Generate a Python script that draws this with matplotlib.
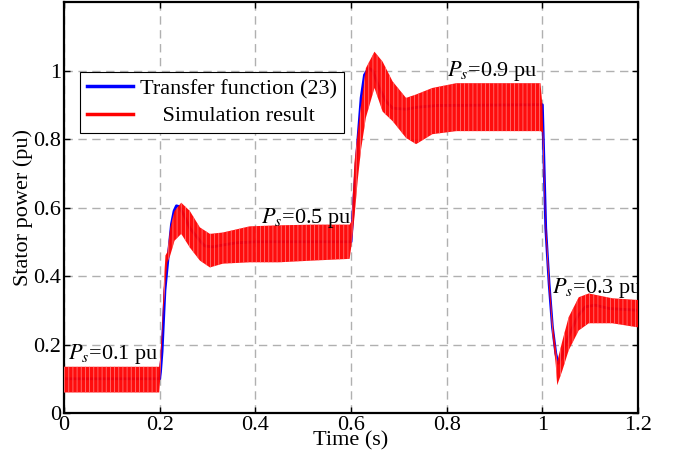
import matplotlib
matplotlib.use("Agg")
import matplotlib.pyplot as plt
from matplotlib.lines import Line2D

# transfer function response
blue_t = [0.0, 0.2, 0.2017, 0.205, 0.208, 0.211, 0.2176, 0.2246, 0.230, 0.235, 0.240,
          0.250, 0.263, 0.284, 0.294, 0.31, 0.33, 0.36, 0.40, 0.60, 0.601, 0.607, 0.614,
          0.621, 0.628, 0.637, 0.645, 0.659, 0.673, 0.687, 0.715, 0.74, 0.78, 1.0, 1.003,
          1.007, 1.014, 1.021, 1.028, 1.033, 1.040, 1.049, 1.06, 1.075, 1.09, 1.11, 1.14, 1.2]
blue_y = [0.1, 0.1, 0.12, 0.18, 0.27, 0.358, 0.454, 0.552, 0.59, 0.605, 0.603,
          0.58, 0.54, 0.503, 0.488, 0.485, 0.49, 0.497, 0.5, 0.5, 0.52, 0.648, 0.794,
          0.92, 0.987, 1.007, 1.0, 0.949, 0.91, 0.89, 0.887, 0.893, 0.898, 0.9, 0.75,
          0.54, 0.378, 0.251, 0.174, 0.145, 0.16, 0.203, 0.24, 0.285, 0.31, 0.315, 0.305, 0.3]

# simulation result: upper / lower edge of the oscillation band
red_t = [0.000, 0.199, 0.201, 0.205, 0.208, 0.212, 0.216, 0.222, 0.231, 0.245, 0.263,
         0.284, 0.305, 0.332, 0.388, 0.45, 0.52, 0.597, 0.601, 0.607, 0.614, 0.621,
         0.631, 0.649, 0.666, 0.687, 0.715, 0.736, 0.770, 0.82, 0.90, 0.996, 1.000,
         1.007, 1.014, 1.021, 1.028, 1.031, 1.042, 1.055, 1.076, 1.097, 1.146, 1.200]
red_hi = [0.135, 0.135, 0.16, 0.25, 0.36, 0.46, 0.47, 0.54, 0.59, 0.614, 0.59,
          0.542, 0.523, 0.527, 0.545, 0.548, 0.55, 0.55, 0.56, 0.73, 0.82, 0.90,
          1.007, 1.055, 1.026, 0.968, 0.92, 0.93, 0.949, 0.963, 0.963, 0.963, 0.90,
          0.56, 0.40, 0.27, 0.19, 0.15, 0.212, 0.28, 0.338, 0.349, 0.335, 0.33]
red_lo = [0.06, 0.06, 0.10, 0.21, 0.30, 0.38, 0.44, 0.46, 0.503, 0.523, 0.483,
          0.445, 0.425, 0.436, 0.44, 0.44, 0.445, 0.45, 0.49, 0.57, 0.68, 0.77,
          0.862, 0.949, 0.88, 0.852, 0.803, 0.785, 0.814, 0.823, 0.823, 0.823, 0.82,
          0.52, 0.36, 0.23, 0.14, 0.081, 0.125, 0.183, 0.241, 0.262, 0.262, 0.25]

xticks = [0, 0.2, 0.4, 0.6, 0.8, 1.0, 1.2]
xlabels = ["0", "0.2", "0.4", "0.6", "0.8", "1", "1.2"]
yticks = [0, 0.2, 0.4, 0.6, 0.8, 1.0]
ylabels = ["0", "0.2", "0.4", "0.6", "0.8", "1"]

plt.rcParams["font.family"] = ["Liberation Serif", "DejaVu Serif"]
plt.rcParams["mathtext.fontset"] = "stix"
plt.rcParams["font.size"] = 16
plt.rcParams["hatch.linewidth"] = 0.6

fig = plt.figure(figsize=(6.79, 4.55), dpi=100)
ax = fig.add_axes([0.0943, 0.0923, 0.8454, 0.9033])

ax.plot(blue_t, blue_y, color="blue", lw=2.0, zorder=2)
ax.fill_between(red_t, red_lo, red_hi, facecolor="red", edgecolor="#ff7a7a",
                hatch="||||", alpha=0.95, lw=0, zorder=3)

ax.set_xlim(0, 1.2)
ax.set_ylim(0, 1.2)
ax.set_xticks(xticks)
ax.set_xticklabels(xlabels)
ax.set_yticks(yticks)
ax.set_yticklabels(ylabels)
ax.tick_params(direction="in", top=True, right=True, length=4, width=1, pad=2)
ax.grid(True, color="#b0b0b0", linestyle=(0, (6, 4)), lw=1)
for s in ax.spines.values():
    s.set_linewidth(1.6)

ax.set_xlabel("Time (s)", labelpad=-2.5)
ax.set_ylabel("Stator power (pu)", labelpad=0)

ax.text(0.008, 0.157, r"$P_s$=0.1 pu")
ax.text(0.412, 0.556, r"$P_s$=0.5 pu")
ax.text(0.801, 0.985, r"$P_s$=0.9 pu")
ax.text(1.02, 0.349, r"$P_s$=0.3 pu", clip_on=True)

handles = [Line2D([], [], color="blue", lw=2.5), Line2D([], [], color="red", lw=2.5)]
leg = ax.legend(handles, ["Transfer function (23)", "    Simulation result"],
                loc="upper left", bbox_to_anchor=(0.028, 0.83), borderaxespad=0,
                fancybox=False, edgecolor="black", framealpha=1, handlelength=2.1,
                handletextpad=0.3, labelspacing=0.3, borderpad=0.3)
leg.get_frame().set_linewidth(0.8)

fig.savefig("out.png", dpi=100)
